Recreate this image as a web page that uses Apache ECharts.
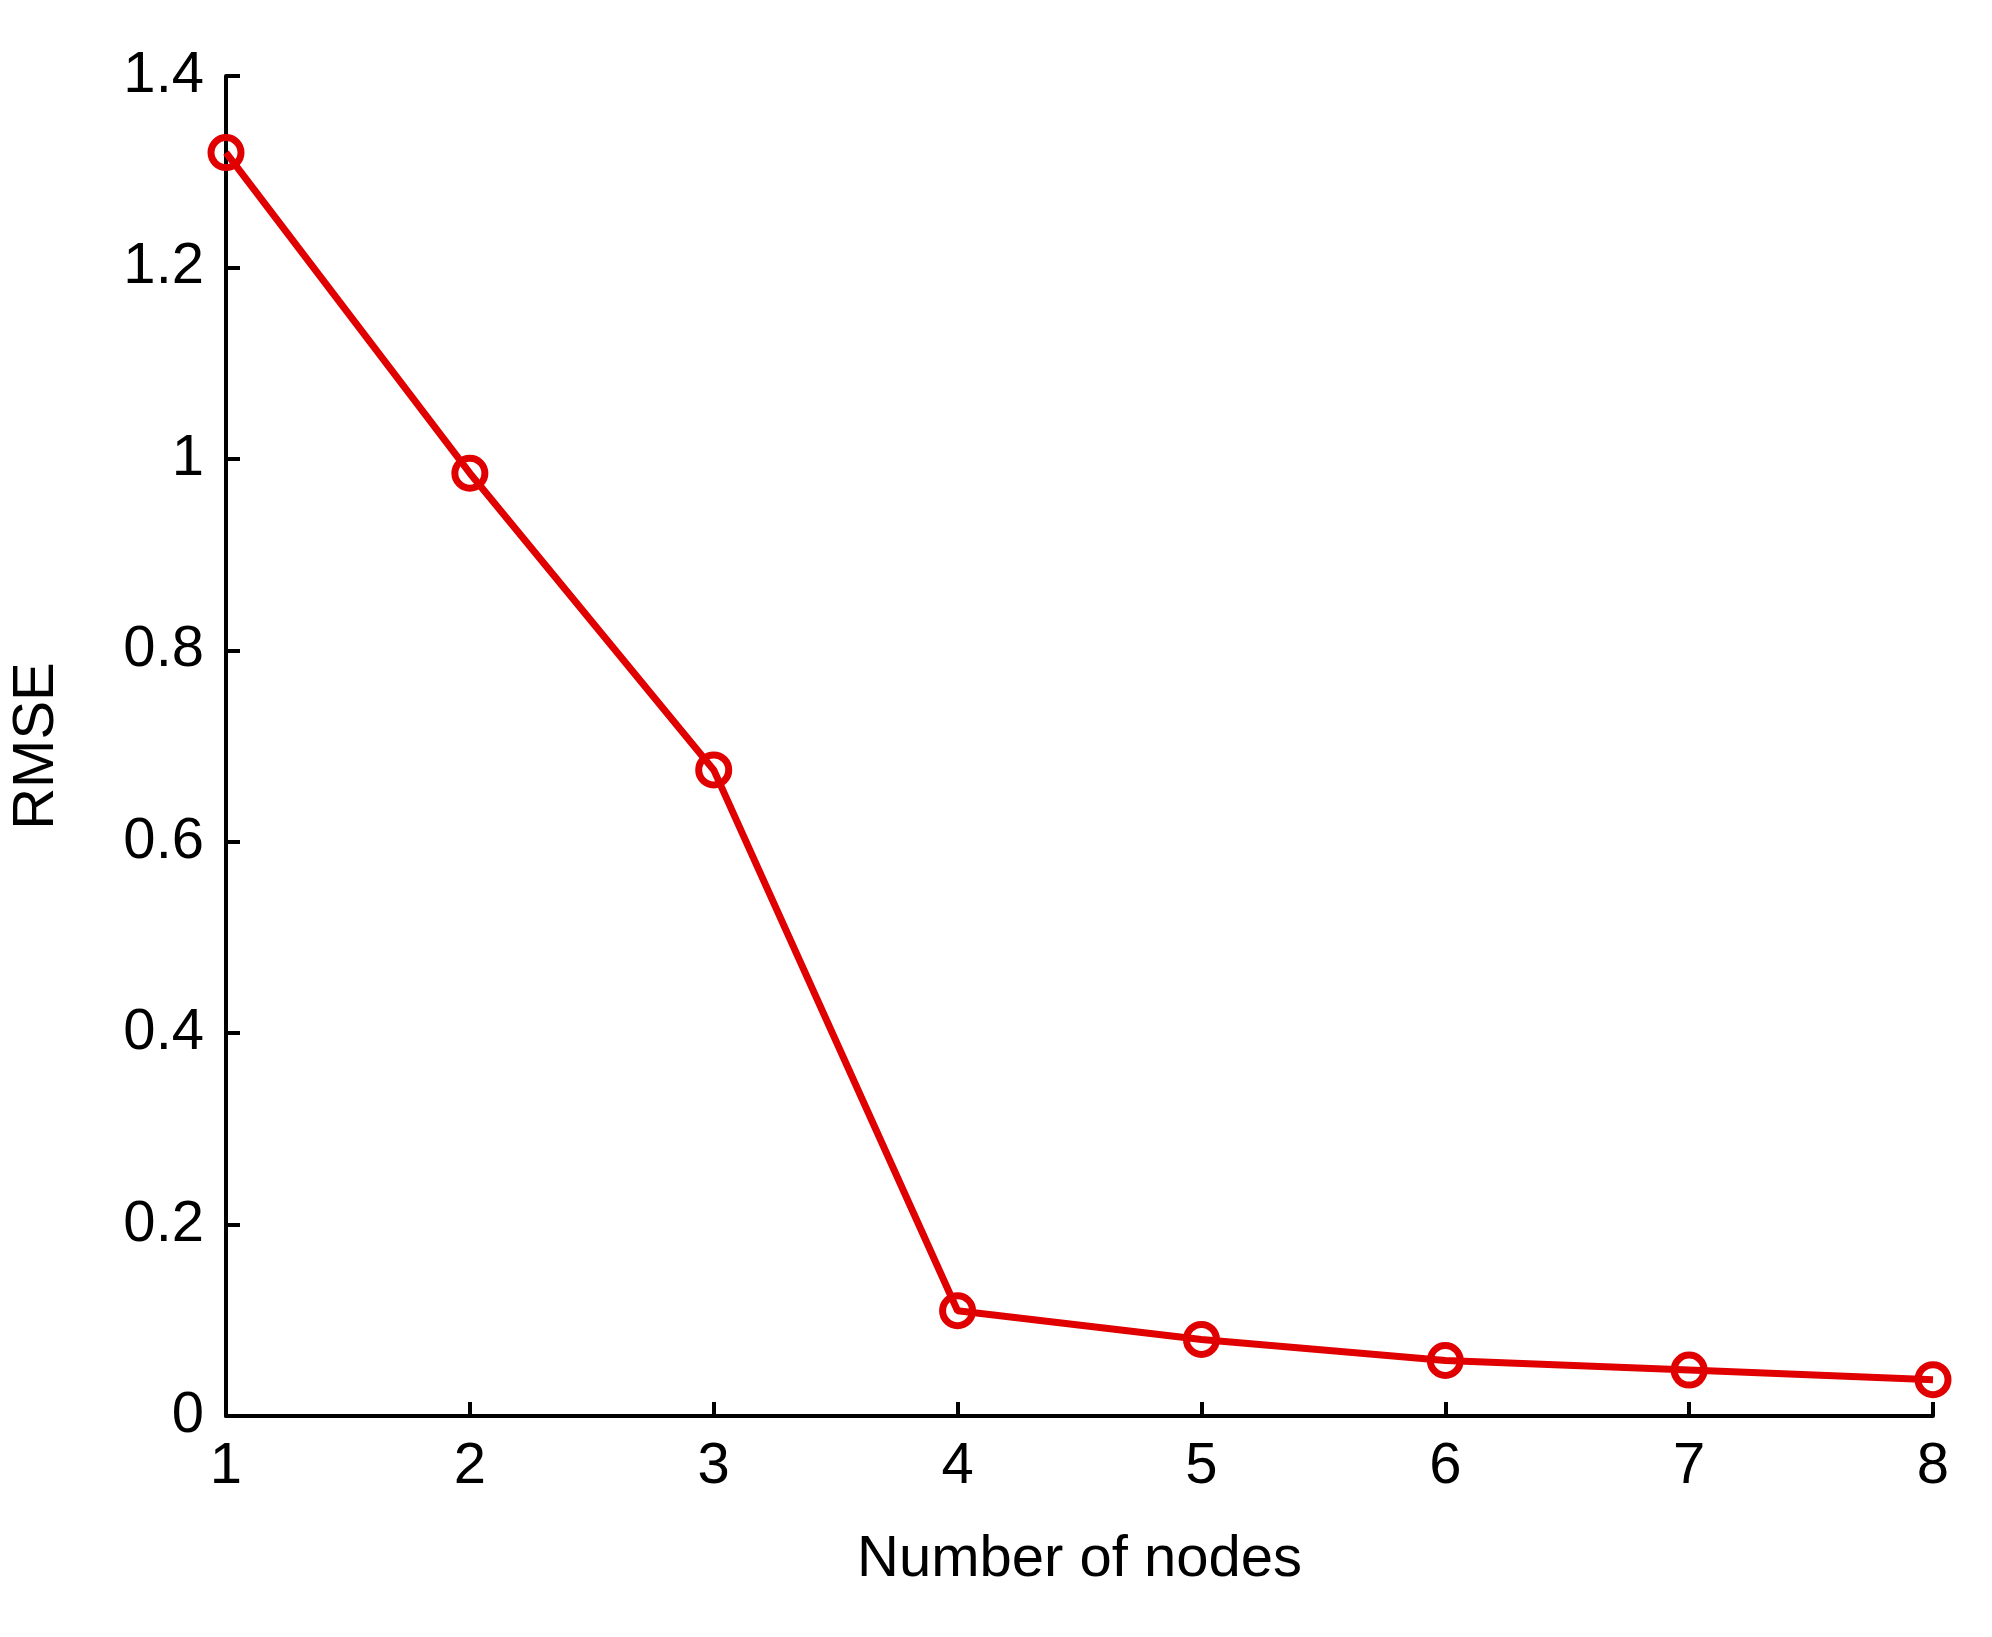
<!DOCTYPE html>
<html>
<head>
<meta charset="utf-8">
<script src="https://cdn.jsdelivr.net/npm/echarts@6/dist/echarts.min.js"></script>
<style>html,body{margin:0;background:#fff}#chart{width:1992px;height:1637px}</style>
</head>
<body>
<div id="chart"></div>
<script>
const nodes = [1, 2, 3, 4, 5, 6, 7, 8];
const rmse = [1.32, 0.985, 0.675, 0.11, 0.08, 0.058, 0.048, 0.038];

const chart = echarts.init(document.getElementById('chart'));
const axisText = { color: '#000', fontSize: 58, fontFamily: 'Liberation Sans' };
chart.setOption({
    animation: false,
    grid: { left: 226, right: 59, top: 76, bottom: 221, outerBoundsMode: 'none' },
    xAxis: {
        type: 'value', min: 1, max: 8, interval: 1,
        name: 'Number of nodes', nameLocation: 'middle', nameGap: 115,
        nameTextStyle: axisText,
        axisLine: { lineStyle: { color: '#000', width: 4 } },
        axisTick: { inside: true, length: 14, lineStyle: { color: '#000', width: 4 } },
        axisLabel: Object.assign({ margin: 22 }, axisText),
        splitLine: { show: false }
    },
    yAxis: {
        type: 'value', min: 0, max: 1.4, interval: 0.2,
        name: 'RMSE', nameLocation: 'middle', nameGap: 160,
        nameTextStyle: axisText,
        axisLine: { show: true, lineStyle: { color: '#000', width: 4 } },
        axisTick: { show: true, inside: true, length: 14, lineStyle: { color: '#000', width: 4 } },
        axisLabel: Object.assign({ margin: 22, formatter: v => String(+v.toFixed(1)) }, axisText),
        splitLine: { show: false }
    },
    series: [{
        type: 'line',
        data: nodes.map((n, i) => [n, rmse[i]]),
        lineStyle: { color: '#e00000', width: 7 },
        symbol: 'circle', symbolSize: 30,
        itemStyle: { color: 'rgba(255,255,255,0)', borderColor: '#e00000', borderWidth: 7 }
    }]
});
</script>
</body>
</html>
